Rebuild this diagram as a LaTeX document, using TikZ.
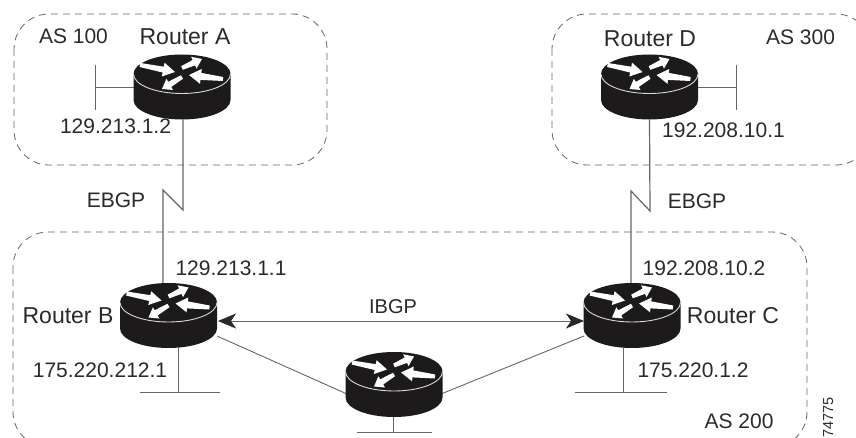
\documentclass[tikz,border=0pt]{standalone}
\usepackage{fontspec}
\setmainfont{Liberation Sans}
\usetikzlibrary{arrows.meta}
\definecolor{ink}{HTML}{2A2A2A}
\definecolor{wire}{HTML}{666666}
\definecolor{body}{HTML}{1C1A1B}
\tikzset{
  x=1pt,y=-1pt,
  routerbox/.style={minimum width=97pt,minimum height=65pt,inner sep=0pt,outer sep=0pt},
  wireline/.style={draw=wire,line width=0.9pt},
  aslink/.style={draw=wire,line width=1.2pt},
  asbox/.style={draw=wire,line width=0.8pt,dash pattern=on 7pt off 5pt},
  lab/.style={text=ink,font=\fontsize{21}{21}\selectfont,inner sep=0pt,anchor=base},
  rlab/.style={text=ink,font=\fontsize{23}{23}\selectfont,inner sep=0pt,anchor=base},
  pics/routerpic/.style={code={
    \fill[body] (-48.5,-13) -- (-48.5,13)
      .. controls (-48.5,23.8) and (-26.8,32.5) .. (0,32.5)
      .. controls (26.8,32.5) and (48.5,23.8) .. (48.5,13)
      -- (48.5,-13)
      .. controls (48.5,-23.8) and (26.8,-32.5) .. (0,-32.5)
      .. controls (-26.8,-32.5) and (-48.5,-23.8) .. (-48.5,-13) -- cycle;
    \draw[white!85!black,line width=0.9pt] (-48.5,-13)
      .. controls (-48.5,-2.2) and (-26.8,6.5) .. (0,6.5)
      .. controls (26.8,6.5) and (48.5,-2.2) .. (48.5,-13);
    \fill[white] (-41.6,-24) -- (-18.2,-20.3) -- (-17.4,-24.3) -- (-7,-15) -- (-20.2,-10.5) -- (-19.4,-14.5) -- (-42.4,-20) -- cycle;
    \fill[white] (-.8,-20.8) -- (10.6,-27) -- (9.1,-30.2) -- (20,-28) -- (14.5,-18.4) -- (13,-21.6) -- (.8,-17.2) -- cycle;
    \fill[white] (41.2,-10) -- (19.3,-14.1) -- (19.8,-18) -- (7,-12) -- (18,-3.2) -- (18.5,-7.1) -- (40.8,-6) -- cycle;
    \fill[white] (-1,-11.7) -- (-13.8,-5.2) -- (-15.6,-8.2) -- (-20,2) -- (-9,3) -- (-10.8,0) -- (1,-8.3) -- cycle;
  }},
}
\begin{document}
\begin{tikzpicture}
\useasboundingbox (0,0) rectangle (856,438);
\clip (0,0) rectangle (856,438);
% AS boxes
\draw[asbox,rounded corners=35pt] (14,14) rectangle (327,165);
\draw[asbox,rounded corners=35pt] (552,14) rectangle (871,165);
\draw[asbox,rounded corners=35pt] (13,232) rectangle (807,447);
% routers
\node[routerbox] (ra) at (182,87) {};
\node[routerbox] (rd) at (649.5,87) {};
\node[routerbox] (rb) at (168.5,315.5) {};
\node[routerbox] (rc) at (632,315.5) {};
\node[routerbox] (re) at (394,384.5) {};
% connector points
\coordinate (astub) at (95,87);
\coordinate (astubt) at (95,65);
\coordinate (astubb) at (95,110);
\coordinate (dstub) at (736,87);
\coordinate (dstubt) at (736,65);
\coordinate (dstubb) at (736,110);
\coordinate (abend1) at (183,210);
\coordinate (abend2) at (163,190);
\coordinate (dcbend1) at (650,211);
\coordinate (dcbend2) at (631,191);
\coordinate (bstub) at (178,392);
\coordinate (bstubl) at (140,392);
\coordinate (bstubr) at (220,392);
\coordinate (cstub) at (623,392);
\coordinate (cstubl) at (575,392);
\coordinate (cstubr) at (667,392);
\coordinate (estub) at (393,432);
\coordinate (estubl) at (357,432);
\coordinate (estubr) at (432,432);
% connectors
\draw[wireline] (ra.west) -- (astub);
\draw[wireline] (astubt) -- (astubb);
\draw[wireline] (rd.east) -- (dstub);
\draw[wireline] (dstubt) -- (dstubb);
\draw[aslink] (ra.south) ++(1,0) -- (abend1) -- (abend2) -- (163,283);
\draw[aslink] (rd.south) -- (dcbend1) -- (dcbend2) -- (631,283);
\draw[wireline] (178,348) -- (bstub);
\draw[wireline] (bstubl) -- (bstubr);
\draw[wireline] (623,348) -- (cstub);
\draw[wireline] (cstubl) -- (cstubr);
\draw[wireline] (393,417) -- (estub);
\draw[wireline] (estubl) -- (estubr);
\draw[wireline,{Stealth[length=18pt,width=15pt,inset=5pt,color=ink]}-{Stealth[length=18pt,width=15pt,inset=5pt,color=ink]}] (218,321) -- (584,321);
\draw[wireline] (217,336) -- (347,394);
\draw[wireline] (441,394) -- (584,336);
% router drawings
\pic at (ra) {routerpic};
\pic at (rd) {routerpic};
\pic at (rb) {routerpic};
\pic at (rc) {routerpic};
\pic at (re) {routerpic};
% labels
\node[rlab] (ta) at (185,45) {Router A};
\node[rlab] (td) at (650,46.5) {Router D};
\node[rlab] (tb) at (68,323) {Router B};
\node[rlab] (tc) at (733,323) {Router C};
\node[lab] (as1) at (73.5,44) {AS 100};
\node[lab] (as3) at (800.5,44.5) {AS 300};
\node[lab] (as2) at (739,428) {AS 200};
\node[lab] (ip1) at (115.5,134) {129.213.1.2};
\node[lab] (ip2) at (723.5,138) {192.208.10.1};
\node[lab] (ip3) at (704,276) {192.208.10.2};
\node[lab] (ip4) at (231,276) {129.213.1.1};
\node[lab] (ip5) at (100,377) {175.220.212.1};
\node[lab] (ip6) at (693,377) {175.220.1.2};
\node[lab] (e1) at (116,208) {EBGP};
\node[lab] (e2) at (697,209) {EBGP};
\node[lab,font=\fontsize{20}{20}\selectfont] (ib) at (393,313) {IBGP};
\node[text=ink,font=\fontsize{14.5}{15}\selectfont,inner sep=0pt,rotate=90,anchor=base west] (fig) at (833,437.5) {74775};
\end{tikzpicture}
\end{document}
